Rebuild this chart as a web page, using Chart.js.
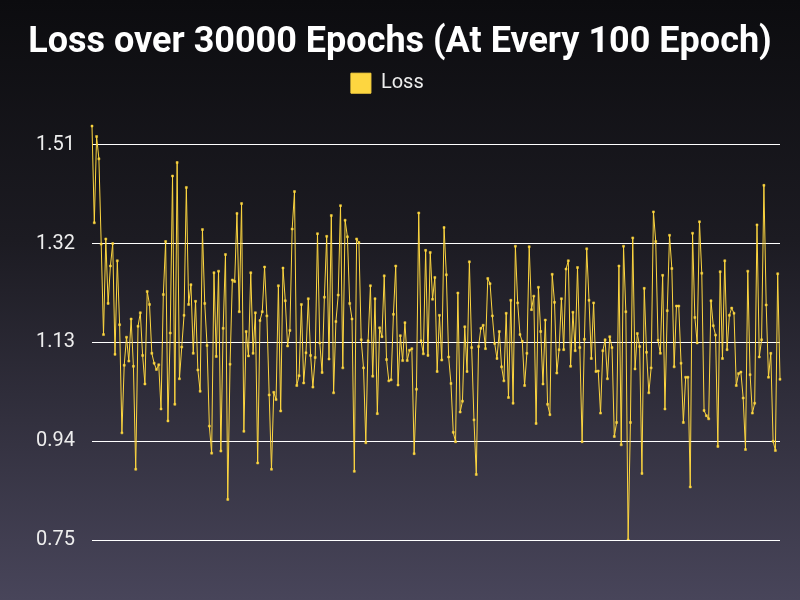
<!DOCTYPE html>
<html>
<head>
<meta charset="utf-8">
<script src="https://cdn.jsdelivr.net/npm/chart.js@4.4.0/dist/chart.umd.min.js"></script>
<style>
  html, body { margin: 0; padding: 0; }
  body { width: 800px; height: 600px; background: linear-gradient(to bottom, #0c0c0f 0%, #1c1b22 40%, #48455a 100%); }
  #wrap { width: 800px; height: 600px; position: relative; }
</style>
</head>
<body>
<div id="wrap"><canvas id="c" width="800" height="600"></canvas></div>
<script>
const titleText = "Loss over 30000 Epochs (At Every 100 Epoch)";
const seriesName = "Loss";
const yTicks = [0.75, 0.94, 1.13, 1.32, 1.51];
const lossValues = [
1.546,1.360,1.526,1.483,1.319,1.145,1.329,1.205,1.277,1.320,1.107,1.287,1.164,0.956,1.086,1.140,1.094,1.175,1.084,0.886,1.161,1.187,1.105,1.050,1.228,1.203,
1.109,1.090,1.078,1.087,1.002,1.222,1.324,0.979,1.148,1.450,1.011,1.476,1.060,1.121,1.182,1.428,1.203,1.241,1.109,1.209,1.077,1.036,1.347,1.205,1.124,0.969,0.917,
1.264,1.103,1.267,0.921,1.157,1.299,0.828,1.088,1.250,1.247,1.378,1.189,1.397,0.959,1.151,1.104,1.264,1.109,1.187,0.898,1.172,1.189,1.275,1.181,1.029,0.886,1.034,1.020,
1.239,0.998,1.273,1.210,1.123,1.153,1.348,1.420,1.047,1.066,1.203,1.052,1.110,1.214,1.105,1.044,1.101,1.339,1.129,1.072,1.217,1.334,1.098,1.374,1.033,1.170,1.221,1.393,
1.081,1.365,1.333,1.205,1.175,0.882,1.329,1.322,1.135,1.081,0.937,1.133,1.239,1.065,1.214,0.993,1.158,1.141,1.258,1.097,1.056,1.058,1.184,1.277,1.048,1.143,1.095,1.168,
1.095,1.115,1.118,0.916,1.040,1.379,1.133,1.108,1.307,1.105,1.303,1.213,1.255,1.074,1.182,1.096,1.351,1.260,1.102,1.051,0.957,0.939,1.225,0.996,1.017,1.160,1.074,1.285,
1.120,0.981,0.876,1.122,1.157,1.163,1.118,1.253,1.243,1.181,1.128,1.099,1.151,1.083,1.056,1.186,1.024,1.211,1.013,1.315,1.206,1.145,1.132,1.047,1.109,1.314,1.193,
1.219,0.974,1.236,1.151,1.050,1.173,1.011,0.991,1.261,1.207,1.071,1.116,1.214,1.116,1.271,1.287,1.084,1.188,1.114,1.274,1.120,0.939,1.136,1.310,1.211,1.099,1.206,1.074,
1.075,0.994,1.114,1.135,1.060,1.141,1.120,0.949,0.976,1.277,0.933,1.315,1.189,0.750,0.976,1.331,1.079,1.147,1.122,0.878,1.234,1.111,1.033,1.081,1.381,1.324,1.134,1.109,
1.259,1.002,1.191,1.336,1.272,1.083,1.200,1.200,1.090,0.976,1.063,1.063,0.852,1.340,1.178,1.129,1.362,1.263,0.999,0.989,0.983,1.210,1.162,1.144,0.930,1.266,1.099,1.287,
1.116,1.182,1.196,1.186,1.047,1.070,1.073,1.023,0.924,1.267,1.068,0.994,1.013,1.356,1.102,1.135,1.432,1.202,1.063,1.109,0.940,0.922,1.262,1.059
];
const epochLabels = lossValues.map((_, i) => String((i + 1) * 100));

const lineColor = "#FDD640";

new Chart(document.getElementById("c"), {
  type: "line",
  data: {
    labels: epochLabels,
    datasets: [{
      label: seriesName,
      data: lossValues,
      borderColor: lineColor,
      backgroundColor: lineColor,
      borderWidth: 1,
      pointRadius: 1.4,
      pointStyle: "rect",
      pointBackgroundColor: lineColor,
      pointBorderColor: lineColor,
      pointBorderWidth: 0.5,
      tension: 0,
      fill: false
    }]
  },
  options: {
    responsive: false,
    animation: false,
    devicePixelRatio: 1,
    layout: { padding: { left: 20, right: 20, bottom: 60, top: 0 } },
    plugins: {
      title: {
        display: true,
        text: titleText,
        color: "#ffffff",
        font: { family: "Roboto", size: 36, weight: "bold" },
        padding: { top: 21, bottom: 2 }
      },
      legend: {
        display: true,
        labels: {
          color: "#eeeeee",
          font: { family: "Roboto", size: 20 },
          boxWidth: 20,
          boxHeight: 20,
          padding: 7,
          generateLabels: (chart) => {
            const items = Chart.defaults.plugins.legend.labels.generateLabels(chart);
            items.forEach(it => { it.text = it.text + "\u2002\u2002 "; });
            return items;
          }
        }
      },
      tooltip: { enabled: false }
    },
    scales: {
      x: { display: false },
      y: {
        min: 0.75,
        max: 1.590,
        afterBuildTicks: (scale) => { scale.ticks = yTicks.map(v => ({ value: v })); },
        afterFit: (scale) => { scale.width = 72; },
        border: { display: false },
        grid: { color: "#ffffff", lineWidth: 1, drawTicks: false },
        ticks: {
          color: "#eeeeee",
          font: { family: "Roboto", size: 20 },
          padding: 17,
          callback: (v) => Number(v).toFixed(2)
        }
      }
    }
  }
});
</script>
</body>
</html>
